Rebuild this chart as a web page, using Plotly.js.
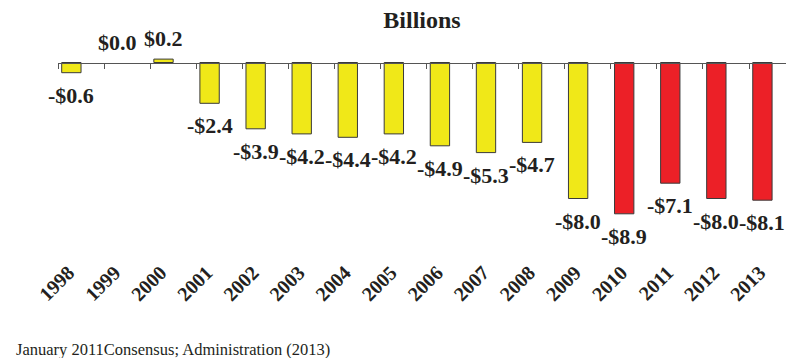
<!DOCTYPE html>
<html>
<head>
<meta charset="utf-8">
<script src="https://cdn.plot.ly/plotly-3.0.1.min.js"></script>
<style>html,body{margin:0;padding:0;background:#fff;}#chart{width:786px;height:358px;}</style>
</head>
<body>
<div id="chart"></div>
<script>
const years = ['1998','1999','2000','2001','2002','2003','2004','2005','2006','2007','2008','2009','2010','2011','2012','2013'];
const values = [-0.6, 0.0, 0.2, -2.4, -3.9, -4.2, -4.4, -4.2, -4.9, -5.3, -4.7, -8.0, -8.9, -7.1, -8.0, -8.1];
const firstRedYear = '2010';
const titleText = 'Billions';
const footerText = 'January 2011Consensus; Administration (2013)';

const YELLOW = '#f0e818';
const RED = '#ec2027';
const INK = '#231f20';
const SERIF = '"Liberation Serif", "Times New Roman", Times, serif';

const W = 786, H = 358;
const M = {l: 58, r: 0, t: 45, b: 102};
const plotH = H - M.t - M.b;

const barWidth = 0.42;
const barOffset = -0.42;

const pxPerUnit = 17.0;
const zeroY = 62.5;
const ymax = (zeroY - M.t) / pxPerUnit;
const ymin = -((H - M.b) - zeroY) / pxPerUnit;
const zeroPos = (0 - ymin) / (ymax - ymin);
const xr = [-0.5, 15.302];
const shift = barOffset + barWidth / 2;
const labelShift = shift - 0.06;

const fmt = v => (v < 0 ? '-$' : '$') + Math.abs(v).toFixed(1);

const bars = {
  type: 'bar',
  x: years,
  y: values,
  width: barWidth,
  offset: barOffset,
  marker: {
    color: years.map(y => (y >= firstRedYear ? RED : YELLOW)),
    line: {color: '#3a3a3a', width: values.map(v => (v === 0 ? 0 : 1))}
  },
  hoverinfo: 'skip'
};

const labelCarrier = {
  type: 'scatter',
  mode: 'none',
  x: years,
  y: values,
  xaxis: 'x2',
  yaxis: 'y',
  hoverinfo: 'skip',
  showlegend: false
};

const annotations = values.map((v, i) => ({
  x: i + shift,
  y: v,
  xref: 'x',
  yref: 'y',
  text: '<b>' + fmt(v) + '</b>',
  showarrow: false,
  xanchor: 'center',
  yanchor: v < 0 ? 'top' : 'bottom',
  yshift: v < 0 ? -8 : 6,
  font: {family: SERIF, size: 22, color: INK}
}));

const footerCenterY = 349;
annotations.push({
  x: (14 - M.l) / (W - M.l - M.r), y: -(footerCenterY - (H - M.b)) / plotH,
  xref: 'paper', yref: 'paper',
  xanchor: 'left', yanchor: 'middle',
  text: footerText, showarrow: false,
  font: {family: SERIF, size: 16.5, color: INK}
});

const layout = {
  width: W,
  height: H,
  margin: Object.assign({pad: 0}, M),
  paper_bgcolor: '#ffffff',
  plot_bgcolor: '#ffffff',
  showlegend: false,
  font: {family: SERIF, color: INK},
  title: {
    text: '<b>' + titleText + '</b>',
    x: 0.5, xref: 'paper', xanchor: 'center',
    y: 0.944, yref: 'container', yanchor: 'middle',
    font: {family: SERIF, size: 24, color: INK}
  },
  xaxis: {
    type: 'category',
    categoryorder: 'array',
    categoryarray: years,
    range: xr,
    anchor: 'free',
    position: zeroPos,
    showline: true,
    linecolor: '#555555',
    linewidth: 1,
    ticks: 'outside',
    tickson: 'boundaries',
    ticklen: 5,
    tickwidth: 1,
    tickcolor: '#555555',
    showticklabels: false,
    showgrid: false,
    zeroline: false,
    fixedrange: true
  },
  xaxis2: {
    type: 'category',
    categoryorder: 'array',
    categoryarray: years,
    overlaying: 'x',
    anchor: 'y',
    side: 'bottom',
    range: [xr[0] - labelShift, xr[1] - labelShift],
    showline: false,
    ticks: '',
    showgrid: false,
    zeroline: false,
    tickangle: -45,
    tickfont: {family: SERIF, size: 20, color: INK, weight: 'bold'},
    fixedrange: true
  },
  yaxis: {
    range: [ymin, ymax],
    domain: [0, 1],
    visible: false,
    showgrid: false,
    zeroline: false,
    fixedrange: true
  },
  annotations: annotations
};

Plotly.newPlot('chart', [bars, labelCarrier], layout, {staticPlot: true, displayModeBar: false});
</script>
</body>
</html>
